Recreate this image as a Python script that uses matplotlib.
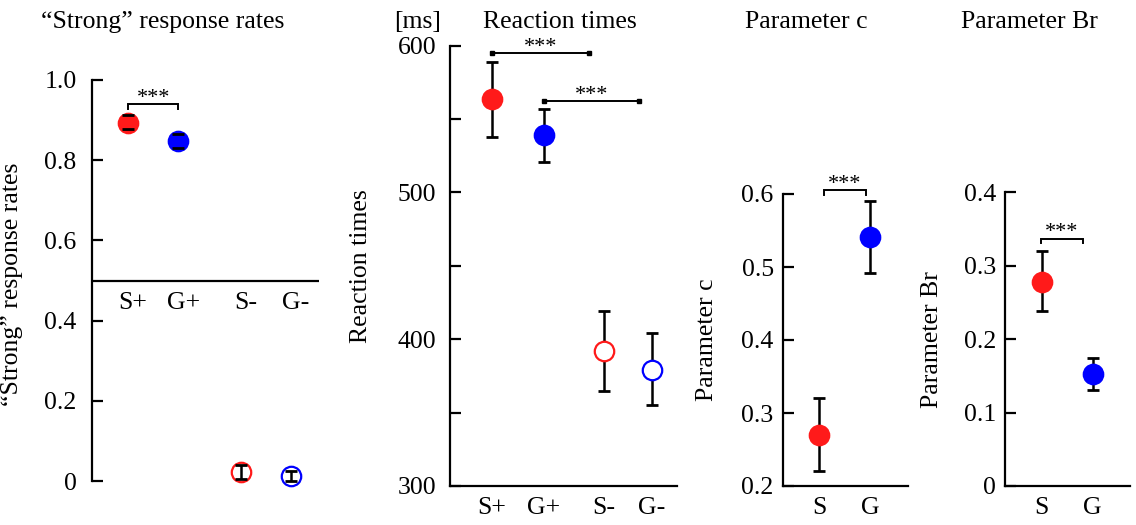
import matplotlib
matplotlib.use("Agg")
import matplotlib.pyplot as plt

plt.rcParams['font.family'] = ['Liberation Serif', 'DejaVu Serif']

W, H = 1136, 525
RED = '#ff1a1a'
BLUE = '#0000ff'
FS = 18.5

# ---------------- data ----------------
rate_labels = ['S+', 'G+', 'S-', 'G-']
rate_pos = [1, 2, 3.25, 4.25]
rate_mean = [0.894, 0.849, 0.022, 0.012]
rate_lo = [0.877, 0.830, 0.005, 0.000]
rate_hi = [0.912, 0.866, 0.040, 0.026]

rt_labels = ['S+', 'G+', 'S-', 'G-']
rt_pos = [1, 2, 3.15, 4.08]
rt_mean = [563.5, 539.0, 392.0, 379.0]
rt_lo = [538.0, 521.0, 365.0, 355.0]
rt_hi = [589.0, 557.0, 419.0, 404.0]

c_labels = ['S', 'G']
c_pos = [1, 2]
c_mean = [0.270, 0.541]
c_lo = [0.220, 0.492]
c_hi = [0.321, 0.590]

br_labels = ['S', 'G']
br_pos = [1, 2]
br_mean = [0.278, 0.152]
br_lo = [0.238, 0.131]
br_hi = [0.320, 0.174]

colors4 = [RED, BLUE, RED, BLUE]
filled4 = [True, True, False, False]
colors2 = [RED, BLUE]


def add_axes_px(left, top, right, bottom):
    return fig.add_axes([left / W, 1 - bottom / H, (right - left) / W, (bottom - top) / H])


def style(ax, lw=1.6):
    for s in ['top', 'right']:
        ax.spines[s].set_visible(False)
    ax.spines['left'].set_linewidth(lw)
    ax.spines['bottom'].set_linewidth(lw)
    ax.tick_params(axis='y', direction='in', length=8, width=lw, labelsize=FS)
    ax.tick_params(axis='x', length=0, labelsize=FS)
    ax.patch.set_alpha(0)


def draw_points(ax, pos, mean, lo, hi, colors, filled, hollow_face, caps_on_top):
    for x, m, l, h, c, f in zip(pos, mean, lo, hi, colors, filled):
        eb = ax.errorbar([x], [m], yerr=[[m - l], [h - m]], fmt='none', ecolor='black',
                         elinewidth=1.8, capsize=4.5, capthick=2.0, zorder=2, clip_on=False)
        if caps_on_top:
            for cl in eb[1]:
                cl.set_zorder(4)
        ax.plot([x], [m], 'o', ms=14, mfc=(c if f else hollow_face), mec=c, mew=1.6,
                zorder=3, clip_on=False)


def bracket(ax, x0, x1, y, drop, ends='tick'):
    if ends == 'tick':
        ax.plot([x0, x0, x1, x1], [y - drop, y, y, y - drop], color='black', lw=1.4,
                clip_on=False, solid_joinstyle='miter')
    else:
        ax.plot([x0, x1], [y, y], color='black', lw=1.4, clip_on=False)
        ax.plot([x0, x1], [y, y], 's', color='black', ms=3.2, clip_on=False)
    ax.annotate('***', xy=((x0 + x1) / 2, y), xytext=(0, 4.3), textcoords='offset points',
                ha='center', va='center', fontsize=16, annotation_clip=False)


fig = plt.figure(figsize=(W / 100, H / 100), dpi=100)

# ---------------- panel 1 ----------------
ax1 = add_axes_px(92, 80, 319, 481)
style(ax1)
ax1.spines['bottom'].set_visible(False)
ax1.set_ylim(0, 1.0)
ax1.set_xlim(0.28, 4.81)
ax1.set_yticks([0, 0.2, 0.4, 0.6, 0.8, 1.0])
ax1.set_yticklabels(['0', '0.2', '0.4', '0.6', '0.8', '1.0'])
ax1.tick_params(axis='y', pad=11)
ax1.set_xticks([])
ax1.axhline(0.5, color='black', lw=1.6, zorder=1)
for x, lab in zip(rate_pos, rate_labels):
    ax1.text(x + 0.1, 0.443, lab, ha='center', va='center', fontsize=FS)
draw_points(ax1, rate_pos, rate_mean, rate_lo, rate_hi, colors4, filled4, 'none', True)
bracket(ax1, rate_pos[0], rate_pos[1], 0.94, 0.012)
ax1.set_ylabel('\u201cStrong\u201d response rates', fontsize=FS)
ax1.yaxis.set_label_coords((23 - 92) / (319 - 92), 0.49)

# ---------------- panel 2 ----------------
ax2 = add_axes_px(450, 45.7, 677, 486)
style(ax2)
ax2.set_ylim(300, 600)
ax2.set_xlim(0.198, 4.56)
ax2.set_yticks([300, 350, 400, 450, 500, 550, 600])
ax2.set_yticklabels(['300', '', '400', '', '500', '', '600'])
ax2.tick_params(axis='y', pad=10)
ax2.set_xticks(rt_pos)
ax2.set_xticklabels(rt_labels)
ax2.tick_params(axis='x', pad=8)
draw_points(ax2, rt_pos, rt_mean, rt_lo, rt_hi, colors4, filled4, 'white', False)
bracket(ax2, rt_pos[0], 2.87, 595, 0, ends='square')
bracket(ax2, rt_pos[1], 3.83, 562, 0, ends='square')
ax2.set_ylabel('Reaction times', fontsize=FS)
ax2.yaxis.set_label_coords((372 - 450) / (677 - 450), 0.5)

# ---------------- panel 3 ----------------
ax3 = add_axes_px(782.7, 194, 908, 486)
style(ax3)
ax3.set_ylim(0.2, 0.6)
ax3.set_xlim(0.288, 2.745)
ax3.set_yticks([0.2, 0.3, 0.4, 0.5, 0.6])
ax3.set_yticklabels(['0.2', '0.3', '0.4', '0.5', '0.6'])
ax3.tick_params(axis='y', pad=6.5)
ax3.set_xticks(c_pos)
ax3.set_xticklabels(c_labels)
ax3.tick_params(axis='x', pad=8)
draw_points(ax3, c_pos, c_mean, c_lo, c_hi, colors2, [True, True], 'white', False)
bracket(ax3, 1.1, 1.92, 0.605, 0.006)
ax3.set_ylabel('Parameter c', fontsize=FS)
ax3.yaxis.set_label_coords((718 - 782.7) / (908 - 782.7), 0.5)

# ---------------- panel 4 ----------------
ax4 = add_axes_px(1005, 192.3, 1130, 486)
style(ax4)
ax4.set_ylim(0, 0.4)
ax4.set_xlim(0.28, 2.73)
ax4.set_yticks([0, 0.1, 0.2, 0.3, 0.4])
ax4.set_yticklabels(['0', '0.1', '0.2', '0.3', '0.4'])
ax4.tick_params(axis='y', pad=6.5)
ax4.set_xticks(br_pos)
ax4.set_xticklabels(br_labels)
ax4.tick_params(axis='x', pad=8)
draw_points(ax4, br_pos, br_mean, br_lo, br_hi, colors2, [True, True], 'white', False)
bracket(ax4, 0.98, 1.8, 0.337, 0.006)
ax4.set_ylabel('Parameter Br', fontsize=FS)
ax4.yaxis.set_label_coords((942.7 - 1005) / (1130 - 1005), 0.5)

# ---------------- titles ----------------
def ftext(x, y, s, **kw):
    fig.text(x / W, 1 - y / H, s, ha='center', va='baseline', fontsize=FS, **kw)

ftext(163, 28, '\u201cStrong\u201d response rates')
ftext(418, 28, '[ms]')
ftext(560, 28, 'Reaction times')
ftext(806, 28, 'Parameter c')
ftext(1029, 28, 'Parameter Br')

fig.savefig('out.png', dpi=100)
